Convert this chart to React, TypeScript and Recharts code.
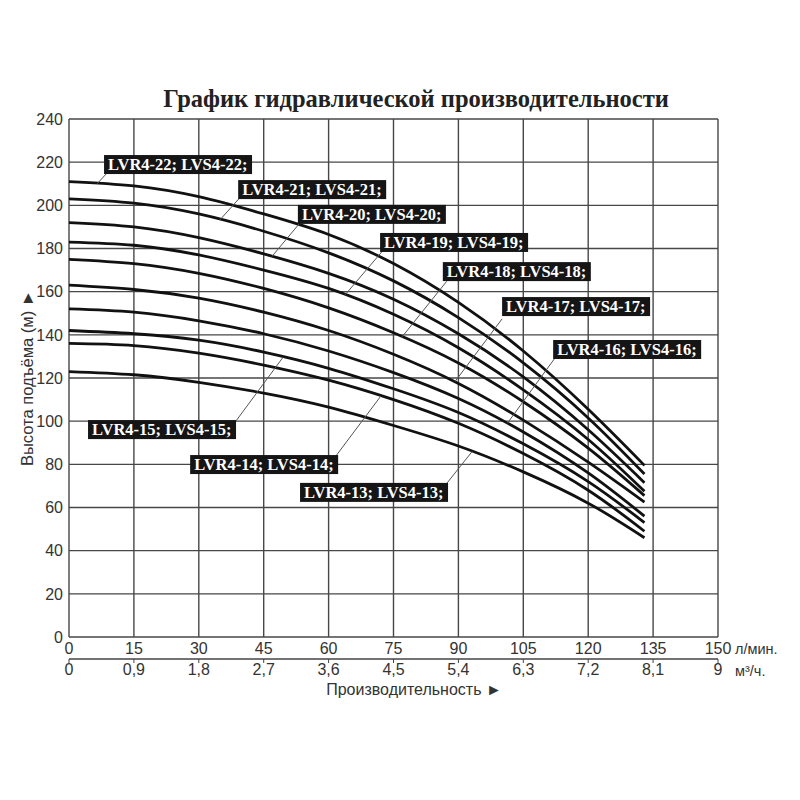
import { CartesianGrid, Label, Line, LineChart, ReferenceDot, ReferenceLine, XAxis, YAxis } from 'recharts';

// flow points, l/min
const flowLpm = [0, 15, 30, 45, 60, 75, 90, 105, 120, 133];

// head, m (one array per pump model)
const head22 = [211, 209, 204, 196, 186.5, 173, 155, 132.5, 105.5, 79.5];
const head21 = [203, 201, 196, 188, 178, 165, 148, 127, 101.5, 75.5];
const head20 = [192, 190, 185, 177.5, 168.5, 156.5, 140.5, 120.5, 96, 71.5];
const head19 = [183, 181.5, 177, 170, 161.5, 149.5, 134, 114.5, 91.5, 67.5];
const head18 = [175, 173, 168.5, 161.5, 152.5, 141, 127, 109, 87.5, 65.5];
const head17 = [163, 161, 157, 150.5, 142, 131, 117.5, 100.5, 81, 62.5];
const head16 = [152, 150.5, 146.5, 140.5, 132.5, 122.5, 110.5, 95, 76, 56];
const head15 = [142, 140.5, 137.5, 132, 124.5, 115, 104, 89.5, 72, 53];
const head14 = [136, 135, 131.5, 126, 119, 110, 99, 85, 68, 49];
const head13 = [123, 121.5, 118, 113, 106.5, 98, 88.5, 76.5, 62, 46];

const flowTicks = [0, 15, 30, 45, 60, 75, 90, 105, 120, 135, 150];
const m3hTicks = ['0', '0,9', '1,8', '2,7', '3,6', '4,5', '5,4', '6,3', '7,2', '8,1', '9'];
const headTicks = [0, 20, 40, 60, 80, 100, 120, 140, 160, 180, 200, 220, 240];

const series = [
    { key: 's22', values: head22 },
    { key: 's21', values: head21 },
    { key: 's20', values: head20 },
    { key: 's19', values: head19 },
    { key: 's18', values: head18 },
    { key: 's17', values: head17 },
    { key: 's16', values: head16 },
    { key: 's15', values: head15 },
    { key: 's14', values: head14 },
    { key: 's13', values: head13 },
];

const data = flowLpm.map((q, i) => {
    const row: { [key: string]: number } = { q };
    series.forEach((s) => {
        row[s.key] = s.values[i];
    });
    return row;
});

// callouts: box top-left corner and leader line, in chart units
const callouts = [
    { text: 'LVR4-22; LVS4-22;', box: [8.1, 223.3], from: [8.8, 215], to: [6.5, 210] },
    { text: 'LVR4-21; LVS4-21;', box: [39.1, 211.7], from: [39.7, 204], to: [34.9, 193.3] },
    { text: 'LVR4-20; LVS4-20;', box: [52.9, 200.2], from: [53.4, 191.9], to: [46.9, 176.3] },
    { text: 'LVR4-19; LVS4-19;', box: [71.9, 187.2], from: [72.4, 178.7], to: [63.8, 158.5] },
    { text: 'LVR4-18; LVS4-18;', box: [86.4, 173.7], from: [87.3, 164.8], to: [77, 139.1] },
    { text: 'LVR4-17; LVS4-17;', box: [100.1, 157.5], from: [100.1, 147.4], to: [89.2, 118.3] },
    { text: 'LVR4-16; LVS4-16;', box: [111.9, 137.6], from: [112.3, 129.2], to: [101.3, 99] },
    { text: 'LVR4-15; LVS4-15;', box: [4.4, 100.5], from: [38.6, 100.1], to: [49.5, 129.7] },
    { text: 'LVR4-14; LVS4-14;', box: [28, 84.3], from: [61.7, 83.9], to: [72.1, 111.7] },
    { text: 'LVR4-13; LVS4-13;', box: [53.4, 71.4], from: [87.4, 71.4], to: [93.2, 86] },
];

const sansFont = "'Liberation Sans', Arial, sans-serif";
const serifFont = "'Liberation Serif', 'Times New Roman', serif";

const CalloutBox = ({ cx, cy, text }: { cx?: number; cy?: number; text: string }) => {
    if (cx == null || cy == null) return null;
    return (
        <g>
            <rect x={cx} y={cy} width={148} height={19} fill="#151515" />
            <text x={cx + 4} y={cy + 15} fill="#fff" fontFamily={serifFont} fontWeight="bold" fontSize={16.5}>
                {text}
            </text>
        </g>
    );
};

export default function App() {
    return (
        <div style={{ position: 'relative', width: 784, height: 720 }}>
            <div
                style={{
                    position: 'absolute',
                    left: 408,
                    top: 77,
                    transform: 'translateX(-50%)',
                    whiteSpace: 'nowrap',
                    fontFamily: serifFont,
                    fontWeight: 'bold',
                    fontSize: 24.5,
                    color: '#222',
                }}
            >
                График гидравлической производительности
            </div>
            <LineChart width={784} height={720} data={data} margin={{ top: 111, right: 74, bottom: 19, left: 16 }}>
                <CartesianGrid stroke="#474747" strokeWidth={1.4} horizontalValues={headTicks} verticalValues={flowTicks} />
                <XAxis
                    dataKey="q"
                    type="number"
                    domain={[0, 150]}
                    ticks={flowTicks}
                    interval={0}
                    height={22}
                    axisLine={false}
                    tickLine={false}
                    tickSize={0}
                    tickMargin={6}
                    tick={{ fontFamily: sansFont, fontSize: 16, fill: '#333' }}
                >
                    <Label
                        content={({ viewBox }: any) => (
                            <text
                                x={viewBox.x + viewBox.width + 17}
                                y={viewBox.y + 17}
                                fontFamily={sansFont}
                                fontSize={14.5}
                                fill="#333"
                            >
                                л/мин.
                            </text>
                        )}
                    />
                </XAxis>
                <XAxis
                    xAxisId="m3"
                    dataKey="q"
                    type="number"
                    domain={[0, 150]}
                    ticks={flowTicks}
                    interval={0}
                    height={50}
                    axisLine={{ stroke: '#444', strokeWidth: 1.4 }}
                    tickLine={{ stroke: '#444' }}
                    tickSize={4}
                    tickMargin={1}
                    tickFormatter={(v: number) => m3hTicks[flowTicks.indexOf(v)]}
                    tick={{ fontFamily: sansFont, fontSize: 16, fill: '#333' }}
                >
                    <Label
                        content={({ viewBox }: any) => (
                            <g>
                                <text
                                    x={viewBox.x + viewBox.width + 17}
                                    y={viewBox.y + 17}
                                    fontFamily={sansFont}
                                    fontSize={14.5}
                                    fill="#333"
                                >
                                    м³/ч.
                                </text>
                                <text
                                    x={viewBox.x + 345}
                                    y={viewBox.y + 36}
                                    textAnchor="middle"
                                    fontFamily={sansFont}
                                    fontSize={16}
                                    fill="#333"
                                >
                                    Производительность ►
                                </text>
                            </g>
                        )}
                    />
                </XAxis>
                <YAxis
                    type="number"
                    domain={[0, 240]}
                    ticks={headTicks}
                    interval={0}
                    width={45}
                    axisLine={false}
                    tickLine={false}
                    tickSize={0}
                    tickMargin={6}
                    tick={{ fontFamily: sansFont, fontSize: 16, fill: '#333' }}
                >
                    <Label
                        content={({ viewBox }: any) => {
                            const x = viewBox.x + 3;
                            const y = viewBox.y + viewBox.height / 2;
                            return (
                                <text
                                    x={x}
                                    y={y}
                                    transform={`rotate(-90, ${x}, ${y})`}
                                    textAnchor="middle"
                                    dominantBaseline="central"
                                    fontFamily={sansFont}
                                    fontSize={16.5}
                                    fill="#333"
                                >
                                    Высота подъёма (м) ►
                                </text>
                            );
                        }}
                    />
                </YAxis>
                {series.map((s) => (
                    <Line
                        key={s.key}
                        dataKey={s.key}
                        type="natural"
                        stroke="#111"
                        strokeWidth={2.8}
                        dot={false}
                        activeDot={false}
                        isAnimationActive={false}
                    />
                ))}
                {callouts.map((c) => (
                    <ReferenceLine
                        key={`leader-${c.text}`}
                        segment={[
                            { x: c.from[0], y: c.from[1] },
                            { x: c.to[0], y: c.to[1] },
                        ]}
                        stroke="#555"
                        strokeWidth={1}
                    />
                ))}
                {callouts.map((c) => (
                    <ReferenceDot
                        key={`box-${c.text}`}
                        x={c.box[0]}
                        y={c.box[1]}
                        r={0}
                        shape={(p: any) => <CalloutBox cx={p.cx} cy={p.cy} text={c.text} />}
                    />
                ))}
            </LineChart>
        </div>
    );
}
